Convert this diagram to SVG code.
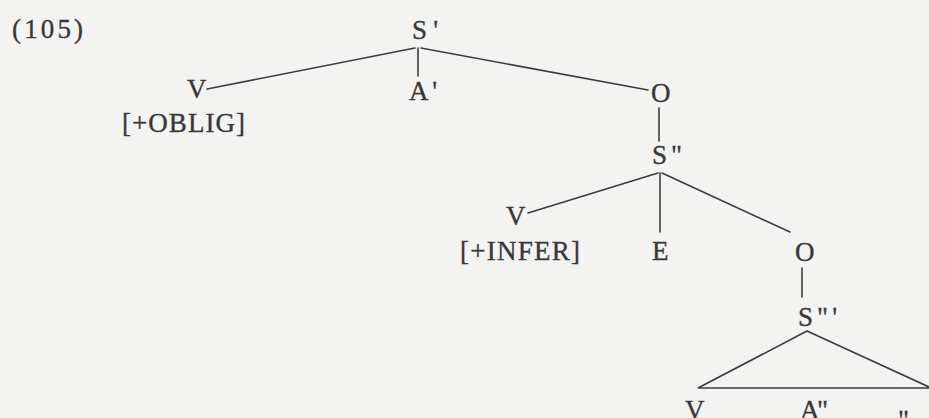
<svg xmlns="http://www.w3.org/2000/svg" width="929" height="418" viewBox="0 0 929 418">
<style>
.t{font-family:"Liberation Serif","Times New Roman",serif;font-size:27px;fill:#383838;stroke:#383838;stroke-width:0.35}
.e{stroke:#3c3c3c;stroke-width:1.6;fill:none;stroke-linecap:round}
</style>
<rect width="929" height="418" fill="#f3f3f1"/>
<text class="t" x="12" y="38" textLength="71" lengthAdjust="spacing">(105)</text>
<g id="connectors">
<line class="e" x1="415" y1="48" x2="207" y2="89"/>
<line class="e" x1="418" y1="48" x2="418" y2="76"/>
<line class="e" x1="421" y1="48" x2="648" y2="90"/>
<line class="e" x1="659" y1="108" x2="659" y2="141"/>
<line class="e" x1="658" y1="173" x2="528" y2="213"/>
<line class="e" x1="660" y1="173" x2="660" y2="232"/>
<line class="e" x1="662" y1="173" x2="790" y2="232"/>
<line class="e" x1="802" y1="268" x2="802" y2="297"/>
<path class="e" d="M807 331 L698 388 L929 388 M807 331 L929 387"/>
</g>
<g id="n-S1"><text class="t" x="412" y="39" textLength="26" lengthAdjust="spacing">S'</text></g>
<g id="n-A1"><text class="t" x="409" y="100" textLength="28" lengthAdjust="spacing">A'</text></g>
<g id="n-V1"><text class="t" x="187" y="98">V</text><text class="t" x="122" y="132" textLength="123" lengthAdjust="spacing">[+OBLIG]</text></g>
<g id="n-O1"><text class="t" x="651" y="102">O</text></g>
<g id="n-S2"><text class="t" x="652" y="164" textLength="30" lengthAdjust="spacing">S"</text></g>
<g id="n-V2"><text class="t" x="506" y="225">V</text><text class="t" x="460" y="260" textLength="120" lengthAdjust="spacing">[+INFER]</text></g>
<g id="n-E"><text class="t" x="652" y="260">E</text></g>
<g id="n-O2"><text class="t" x="795" y="261">O</text></g>
<g id="n-S3"><text class="t" x="798" y="326" textLength="39" lengthAdjust="spacing">S"'</text></g>
<g id="n-V3"><text class="t" x="685" y="419">V</text></g>
<g id="n-A2"><text class="t" x="800" y="419" textLength="28" lengthAdjust="spacing">A"</text></g>
<g id="n-cut"><text class="t" x="898" y="429" textLength="24" lengthAdjust="spacing">"</text></g>
</svg>
